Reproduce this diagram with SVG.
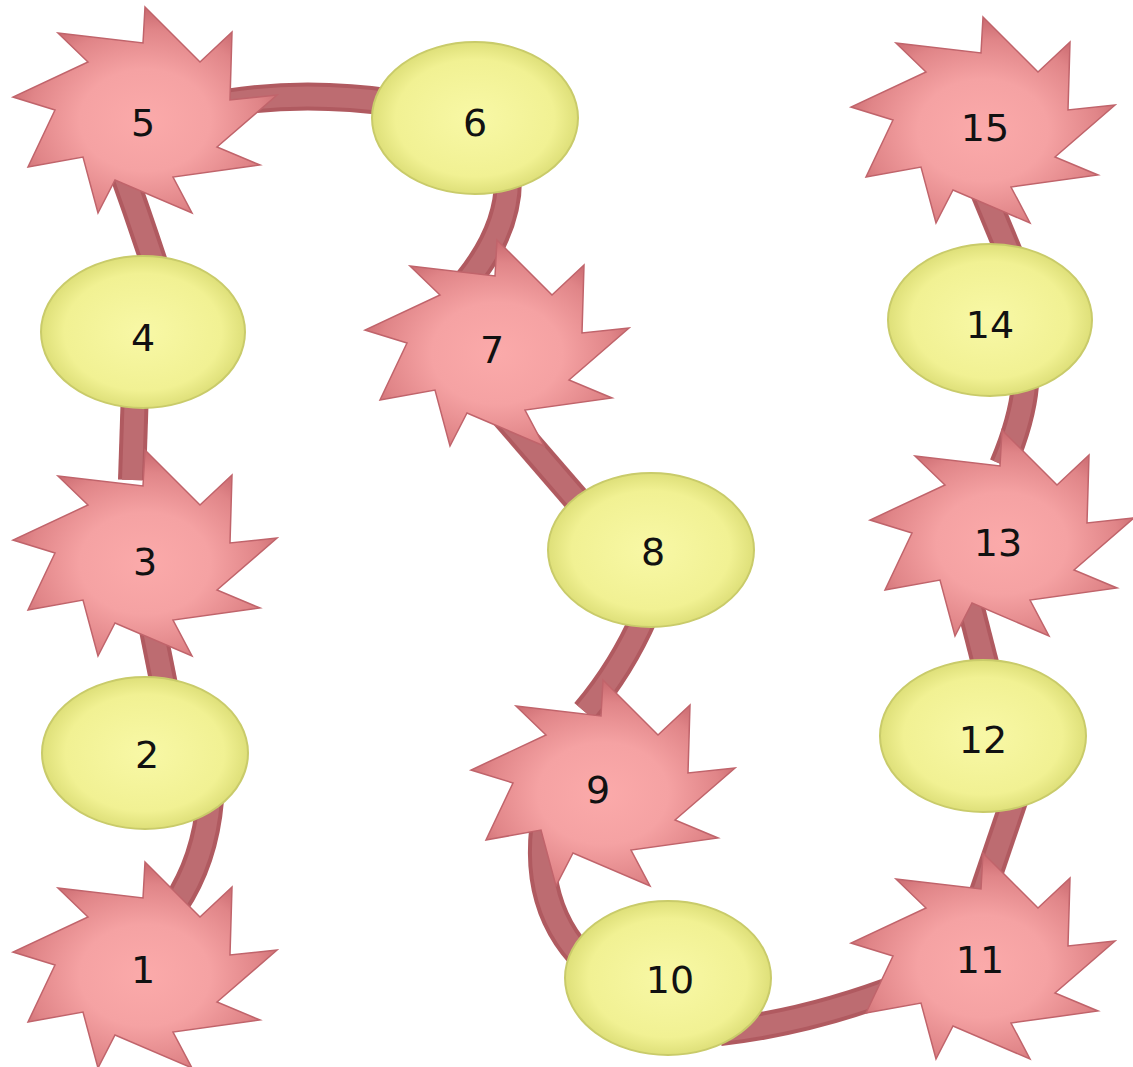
<svg xmlns="http://www.w3.org/2000/svg" width="1133" height="1067" viewBox="0 0 1133 1067">
<defs>
<radialGradient id="gStar" cx="0.5" cy="0.55" r="0.55">
<stop offset="0" stop-color="#fbaaaa"/>
<stop offset="0.45" stop-color="#f5a2a3"/>
<stop offset="0.8" stop-color="#e08588"/>
<stop offset="1" stop-color="#c8686e"/>
</radialGradient>
<radialGradient id="gEll" cx="0.5" cy="0.5" r="0.55">
<stop offset="0" stop-color="#f8f8a6"/>
<stop offset="0.7" stop-color="#f1f193"/>
<stop offset="1" stop-color="#d6d86e"/>
</radialGradient>
<path id="star" d="M0,-111 L55,-56 L87,-86 L85,-18 L132,-23 L72,29 L115,47 L28,59 L47,95 L-30,62 L-47,95 L-62,39 L-117,49 L-90,-8 L-132,-21 L-57,-56 L-87,-85 L-2,-75 Z"/>
<g id="cons">
<path d="M175,905 Q205,860 210,800"/>
<path d="M168,705 L150,615"/>
<path d="M132,480 L135,390"/>
<path d="M158,275 Q140,220 122,170"/>
<path d="M200,108 Q290,88 395,103"/>
<path d="M508,180 Q508,230 468,280"/>
<path d="M495,405 L590,515"/>
<path d="M645,615 Q622,668 585,712"/>
<path d="M545,815 Q528,920 605,978"/>
<path d="M720,1032 Q810,1022 905,985"/>
<path d="M982,895 L1016,795"/>
<path d="M988,675 L965,585"/>
<path d="M1003,465 Q1022,420 1025,385"/>
<path d="M1010,255 L983,190"/>
</g>
</defs>
<style>
.star{fill:url(#gStar);stroke:#c0646b;stroke-width:1.5;stroke-linejoin:miter}
.ell{fill:url(#gEll);stroke:#c9cb6a;stroke-width:2}
.conOuter{fill:none;stroke:#b05a60;stroke-width:28;stroke-linecap:butt}
.conInner{fill:none;stroke:#bd6c71;stroke-width:20;stroke-linecap:butt}
.lbl{font-family:"DejaVu Sans","Liberation Sans",sans-serif;font-size:38px;fill:#111;text-anchor:middle;dominant-baseline:central}
</style>
<rect width="1133" height="1067" fill="#ffffff"/>
<g id="connectors">
<use href="#cons" class="conOuter"/>
<use href="#cons" class="conInner"/>
</g>
<g id="node1"><use href="#star" class="star" transform="translate(145,973)"/><text class="lbl" x="143" y="970">1</text></g>
<g id="node2"><ellipse class="ell" cx="145" cy="753" rx="103" ry="76"/><text class="lbl" x="147" y="755">2</text></g>
<g id="node3"><use href="#star" class="star" transform="translate(145,561)"/><text class="lbl" x="145" y="562">3</text></g>
<g id="node4"><ellipse class="ell" cx="143" cy="332" rx="102" ry="76"/><text class="lbl" x="143" y="338">4</text></g>
<g id="node5"><use href="#star" class="star" transform="translate(145,118)"/><text class="lbl" x="143" y="123">5</text></g>
<g id="node6"><ellipse class="ell" cx="475" cy="118" rx="103" ry="76"/><text class="lbl" x="475" y="123">6</text></g>
<g id="node7"><use href="#star" class="star" transform="translate(497,351)"/><text class="lbl" x="492" y="350">7</text></g>
<g id="node8"><ellipse class="ell" cx="651" cy="550" rx="103" ry="77"/><text class="lbl" x="653" y="552">8</text></g>
<g id="node9"><use href="#star" class="star" transform="translate(603,791)"/><text class="lbl" x="598" y="790">9</text></g>
<g id="node10"><ellipse class="ell" cx="668" cy="978" rx="103" ry="77"/><text class="lbl" x="670" y="980">10</text></g>
<g id="node11"><use href="#star" class="star" transform="translate(983,964)"/><text class="lbl" x="980" y="960">11</text></g>
<g id="node12"><ellipse class="ell" cx="983" cy="736" rx="103" ry="76"/><text class="lbl" x="983" y="740">12</text></g>
<g id="node13"><use href="#star" class="star" transform="translate(1002,541)"/><text class="lbl" x="998" y="543">13</text></g>
<g id="node14"><ellipse class="ell" cx="990" cy="320" rx="102" ry="76"/><text class="lbl" x="990" y="325">14</text></g>
<g id="node15"><use href="#star" class="star" transform="translate(983,128)"/><text class="lbl" x="985" y="128">15</text></g>
</svg>
